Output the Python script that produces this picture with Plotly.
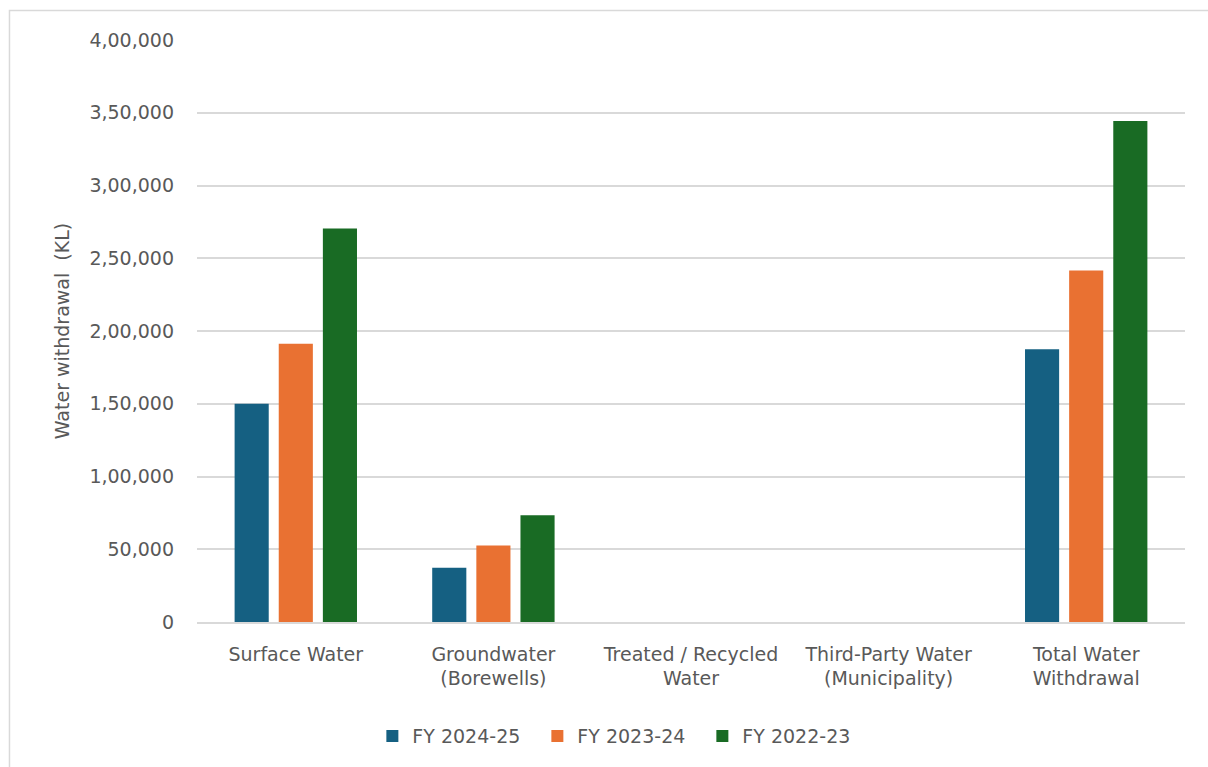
import plotly.graph_objects as go

# Water withdrawal by source (KL)
categories = [
    "Surface Water",
    "Groundwater<br>(Borewells)",
    "Treated / Recycled<br>Water",
    "Third-Party Water<br>(Municipality)",
    "Total Water<br>Withdrawal",
]
fy_2024_25 = [150000, 37300, 0, 0, 187400]
fy_2023_24 = [191300, 52500, 0, 0, 241500]
fy_2022_23 = [270500, 73300, 0, 0, 344300]

series_names = ["FY 2024-25", "FY 2023-24", "FY 2022-23"]
series_colors = ["#156082", "#E97132", "#196B24"]

tick_vals = [0, 50000, 100000, 150000, 200000, 250000, 300000, 350000, 400000]
tick_text = ["0", "50,000", "1,00,000", "1,50,000", "2,00,000",
             "2,50,000", "3,00,000", "3,50,000", "4,00,000"]

FONT = "DejaVu Sans, sans-serif"
TXT = "#595959"
FS = 19

fig = go.Figure()
for name, vals, col in zip(series_names, [fy_2024_25, fy_2023_24, fy_2022_23], series_colors):
    fig.add_trace(go.Bar(x=categories, y=vals, name=name, marker_color=col,
                         marker_line_width=0))

fig.update_layout(
    width=1208, height=767,
    margin=dict(l=197, r=23, t=40, b=145),
    paper_bgcolor="white", plot_bgcolor="white",
    barmode="group", bargap=0.33, bargroupgap=0.227,
    font=dict(family=FONT, size=FS, color=TXT),
    showlegend=True,
    legend=dict(orientation="h", x=0.428, xanchor="center", y=-0.196, yanchor="middle",
                font=dict(size=FS, color=TXT), entrywidth=120, entrywidthmode="pixels",
                traceorder="normal"),
    xaxis=dict(showgrid=False, showline=True, linecolor="#d9d9d9", linewidth=1.5,
               ticks="", ticklabelstandoff=14, tickfont=dict(size=FS, color=TXT),
               fixedrange=True),
    yaxis=dict(range=[0, 400000], tickvals=tick_vals, ticktext=tick_text,
               showgrid=True, gridcolor="#d9d9d9", gridwidth=1.5, zeroline=False,
               showline=False, ticks="", ticklabelstandoff=22,
               tickfont=dict(size=FS, color=TXT),
               title=dict(text="Water withdrawal\u00a0 (KL)", standoff=14,
                          font=dict(size=FS, color=TXT))),
    shapes=[dict(type="rect", xref="paper", yref="paper",
                 x0=-0.1898, x1=1.05, y0=-0.27, y1=1.0507,
                 line=dict(color="#d9d9d9", width=1.5), layer="below")],
)

fig.write_html("out.html")
